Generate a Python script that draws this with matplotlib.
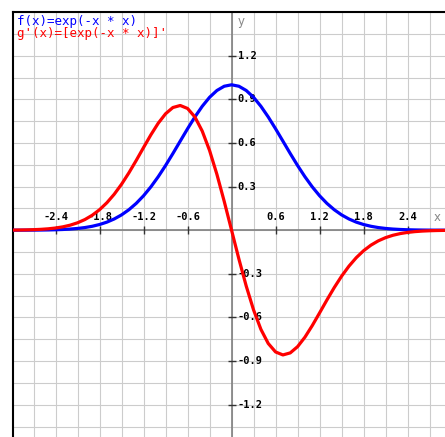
import numpy as np
import matplotlib
matplotlib.use("Agg")
import matplotlib.pyplot as plt
from matplotlib.transforms import offset_copy

x_vals = [-3.0, -2.9, -2.8, -2.7, -2.6, -2.5, -2.4, -2.3, -2.2, -2.1,
          -2.0, -1.9, -1.8, -1.7, -1.6, -1.5, -1.4, -1.3, -1.2, -1.1,
          -1.0, -0.9, -0.8, -0.7, -0.6, -0.5, -0.4, -0.3, -0.2, -0.1,
          0.0, 0.1, 0.2, 0.3, 0.4, 0.5, 0.6, 0.7, 0.8, 0.9,
          1.0, 1.1, 1.2, 1.3, 1.4, 1.5, 1.6, 1.7, 1.8, 1.9,
          2.0, 2.1, 2.2, 2.3, 2.4, 2.5, 2.6, 2.7, 2.8, 2.9, 3.0]

f_vals = [0.00012, 0.00022, 0.00039, 0.00068, 0.00116, 0.00193, 0.00315, 0.00504, 0.00791, 0.01216,
          0.01832, 0.02705, 0.03916, 0.05558, 0.07730, 0.10540, 0.14086, 0.18452, 0.23693, 0.29820,
          0.36788, 0.44486, 0.52729, 0.61263, 0.69768, 0.77880, 0.85214, 0.91393, 0.96079, 0.99005,
          1.00000, 0.99005, 0.96079, 0.91393, 0.85214, 0.77880, 0.69768, 0.61263, 0.52729, 0.44486,
          0.36788, 0.29820, 0.23693, 0.18452, 0.14086, 0.10540, 0.07730, 0.05558, 0.03916, 0.02705,
          0.01832, 0.01216, 0.00791, 0.00504, 0.00315, 0.00193, 0.00116, 0.00068, 0.00039, 0.00022, 0.00012]

g_vals = [0.00074, 0.00128, 0.00218, 0.00367, 0.00603, 0.00965, 0.01512, 0.02318, 0.03480, 0.05107,
          0.07326, 0.10279, 0.14098, 0.18897, 0.24736, 0.31620, 0.39441, 0.47975, 0.56863, 0.65604,
          0.73576, 0.80075, 0.84366, 0.85768, 0.83722, 0.77880, 0.68171, 0.54836, 0.38432, 0.19801,
          0.00000, -0.19801, -0.38432, -0.54836, -0.68171, -0.77880, -0.83722, -0.85768, -0.84366, -0.80075,
          -0.73576, -0.65604, -0.56863, -0.47975, -0.39441, -0.31620, -0.24736, -0.18897, -0.14098, -0.10279,
          -0.07326, -0.05107, -0.03480, -0.02318, -0.01512, -0.00965, -0.00603, -0.00367, -0.00218, -0.00128, -0.00074]

x_ticks = [-2.4, -1.8, -1.2, -0.6, 0.6, 1.2, 1.8, 2.4]
x_tick_labels = ["-2.4", "-1.8", "-1.2", "-0.6", "0.6", "1.2", "1.8", "2.4"]
y_ticks = [-1.2, -0.9, -0.6, -0.3, 0.3, 0.6, 0.9, 1.2]
y_tick_labels = ["-1.2", "-0.9", "-0.6", "-0.3", "0.3", "0.6", "0.9", "1.2"]
legend_f = "f(x)=exp(-x * x)"
legend_g = "g'(x)=[exp(-x * x)]'"

# ---- figure ----
W, H = 445, 437
fig = plt.figure(figsize=(W / 100, H / 100), dpi=100)
ax = fig.add_axes([13 / W, 0, (W - 13) / W, (H - 11.5) / H])

# grid (ticks first, then limits so the limits are not expanded)
ax.set_xticks(np.arange(-3.0, 3.01, 0.3))
ax.set_yticks(np.arange(-1.5, 1.51, 0.15))
ax.set_xlim(-2.98, 2.91)
ax.set_ylim(-1.422, 1.504)
ax.grid(True, color="#cccccc", linewidth=0.8)
ax.tick_params(length=0, labelbottom=False, labelleft=False)
ax.set_axisbelow(True)

for s in ["right", "bottom"]:
    ax.spines[s].set_visible(False)
for s in ["left", "top"]:
    ax.spines[s].set_color("black")
    ax.spines[s].set_linewidth(1.5)

# axes through origin
ax.axhline(0, color="#808080", linewidth=1.2, zorder=2)
ax.axvline(0, color="#808080", linewidth=1.2, zorder=2)

# tick crosses
ax.plot(x_ticks, [0] * len(x_ticks), linestyle="none", marker="|", markersize=6,
        color="#333333", markeredgewidth=1, zorder=2.5)
ax.plot([0] * len(y_ticks), y_ticks, linestyle="none", marker="_", markersize=6,
        color="#333333", markeredgewidth=1, zorder=2.5)

mono = "DejaVu Sans Mono"
tx = offset_copy(ax.transData, fig=fig, x=0, y=9.5, units="points")
for t, lab in zip(x_ticks, x_tick_labels):
    ax.text(t, 0, lab, transform=tx, ha="center", va="center", fontsize=7.5,
            fontweight="bold", family=mono, color="black", zorder=2.6)
ty = offset_copy(ax.transData, fig=fig, x=4.5, y=0, units="points")
for t, lab in zip(y_ticks, y_tick_labels):
    ax.text(0, t, lab, transform=ty, ha="left", va="center", fontsize=7.5,
            fontweight="bold", family=mono, color="black", zorder=2.6)

# axis names
fig.text(437 / W, 1 - 217 / H, "x", ha="center", va="center", fontsize=8.5, color="#888888")
fig.text(241 / W, 1 - 22 / H, "y", ha="center", va="center", fontsize=8.5, color="#888888")

# curves
ax.plot(x_vals, f_vals, color="#0000ff", linewidth=2.3, zorder=4,
        solid_capstyle="round", solid_joinstyle="round")
ax.plot(x_vals, g_vals, color="#ff0000", linewidth=2.3, zorder=5,
        solid_capstyle="round", solid_joinstyle="round")

# legend text
fig.text(17 / W, 1 - 21 / H, legend_f, ha="left", va="center", fontsize=9,
         family=mono, color="#0000ff")
fig.text(17 / W, 1 - 33 / H, legend_g, ha="left", va="center", fontsize=9,
         family=mono, color="#ff0000")

fig.savefig("out.png", dpi=100)
